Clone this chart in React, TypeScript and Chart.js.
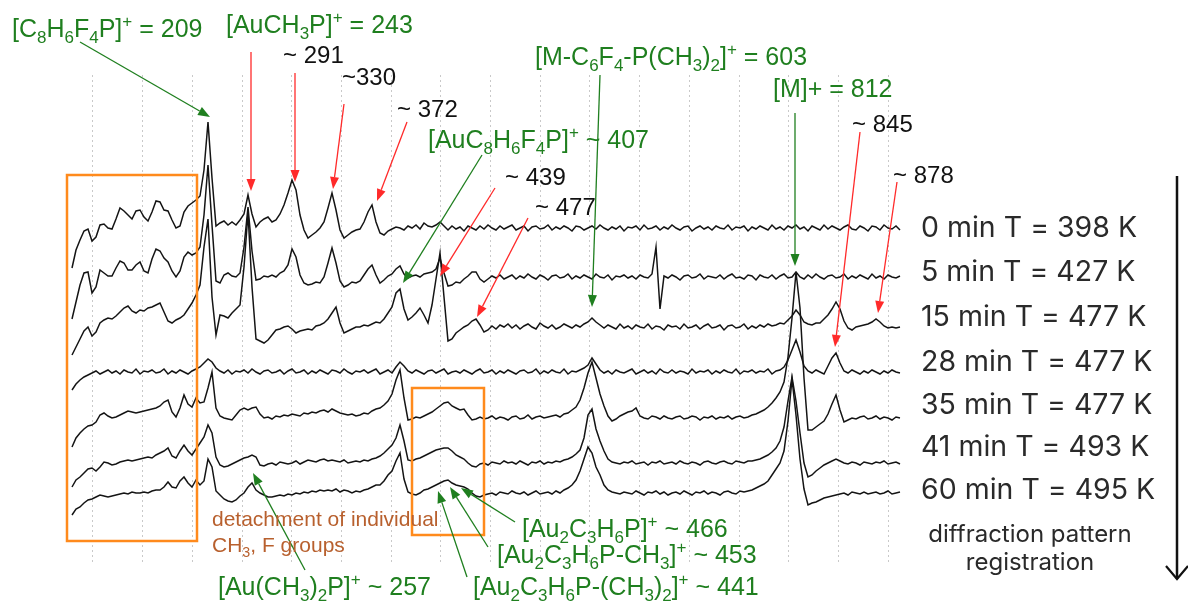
import { useEffect, useRef } from 'react';
import { Chart, registerables } from 'chart.js';

Chart.register(...registerables);

// ---- x grid (mass channel, one sample every 4 units) ----
const channelStart = 72;
const channelStep = 4;

// vertical dotted reference lines
const gridChannels = [92, 142, 192, 242, 291, 341, 391, 440, 490, 540, 589, 639, 689, 739, 788, 838, 888];

// vertical offset of each trace (a.u.)
const traceOffsets = [337, 288, 238, 193, 147, 102, 72];

const traceLabels = [
  '0 min T = 398 K',
  '5 min T = 427 K',
  '15 min T = 477 K',
  '28 min T = 477 K',
  '35 min T = 477 K',
  '41 min T = 493 K',
  '60 min T = 495 K',
];

// ---- intensities relative to each trace's baseline ----
const trace0min = [
  -40, -22, -12, -3, -1, -13, -9, 3, 4, 0,
  -1, 9, 20, 17, 13, 9, 17, 18, 11, 7,
  16, 27, 26, 18, 17, 8, 0, 2, 16, 22,
  25, 28, 32, 58, 106, 50, 2, 5, 7, 3,
  6, 3, 8, 14, 33, 14, 1, 6, 9, 11,
  6, 8, 14, 23, 35, 48, 38, 13, -2, -10,
  -7, -4, 0, 6, 20, 35, 18, -2, -10, -7,
  -4, -2, -1, 6, 16, 23, 6, -5, -7, -3,
  -1, 1, 0, -2, 2, 0, 3, -1, 5, 2,
  1, 3, 6, 2, -2, 2, -1, 1, -3, 2,
  0, -2, 2, -1, 3, 0, -2, 2, -1, 1,
  3, -2, 0, 2, -3, 1, 2, -1, 0, 3,
  -2, 1, -1, 2, 0, -3, 2, 1, -2, 0,
  2, -1, 3, 0, -2, 1, -1, 2, -3, 1,
  0, 2, -2, 3, -1, 0, 2, -2, 1, -1,
  3, 0, -2, 1, 2, -3, 0, 2, -1, 1,
  -2, 2, 0, -1, 3, -2, 1, 0, 2, -3,
  1, -1, 2, 0, -2, 3, -1, 1, -2, 2,
  0, 3, -1, 1, -3, 2, 0, -2, 3, -1,
  2, 0, -2, 1, 3, -1, -2, 2, 0, -3,
  2, 1, -2, 3, 0, -1, 2, -2,
];

const trace5min = [
  -42, -25, -8, 4, 5, -16, -10, 7, 4, 1,
  1, 9, 16, 14, 7, 7, 12, 15, 6, 4,
  18, 28, 26, 19, 15, 6, 0, 6, 20, 25,
  22, 24, 30, 62, 112, 52, -4, -6, 2, 4,
  1, 0, 4, 30, 70, 26, -3, -2, 1, 0,
  2, 0, 4, 6, 12, 28, 20, 2, -6, -8,
  -7, -5, -6, 0, 14, 29, 14, -4, -10, -8,
  -5, -6, -4, 2, 8, 12, 2, -6, -3, 1,
  3, 8, 11, 3, -1, 1, 2, 0, 3, 4,
  5, 8, 19, 4, -9, -8, -5, -6, -2, 1,
  5, 5, -2, -5, -2, 1, -1, 2, -2, 0,
  2, -2, 1, -1, 3, 0, -2, 2, 0, -3,
  1, 2, -1, 0, 3, -2, 1, -1, 2, 0,
  -2, 3, 0, -1, 2, -3, 1, 0, 2, -1,
  1, -2, 2, 0, -1, 3, 30, -32, 1, -1,
  2, 0, -3, 1, 2, -1, 0, 3, -2, 1,
  0, -1, 2, -2, 1, 3, -1, 0, -2, 2,
  1, -3, 2, 0, -1, 2, -2, 1, 3, -1,
  0, 5, 0, -2, 2, -1, 3, 0, -2, 1,
  2, -1, 0, 3, -2, 1, -1, 2, 0, -2,
  3, -1, 1, -2, 2, 0, -1, 1,
];

const trace15min = [
  -28, -20, -12, -4, 0, -9, -5, 4, 7, 9,
  8, 11, 15, 19, 21, 16, 14, 17, 16, 19,
  20, 22, 24, 15, 6, 4, 7, 9, 12, 18,
  24, 32, 42, 80, 108, 30, -8, 12, 11, 9,
  14, 18, 22, 60, 114, 40, -12, -14, -16, -13,
  -8, -3, -2, 0, 1, -2, -6, -4, -3, -2,
  -3, 1, 2, 4, 8, 14, 20, 4, -6, -4,
  -2, 0, 0, 2, 1, 3, 5, 4, 8, 14,
  20, 34, 38, 18, 7, 10, 14, 19, 12, 4,
  22, 48, 74, 30, -14, -12, -6, -3, 0, 2,
  6, 8, 2, -5, -3, 1, -2, 2, 0, 3,
  -1, 2, -2, 1, 3, 0, -2, 4, 1, -1,
  2, -2, 0, 3, 1, -1, 2, 0, 3, 5,
  9, 5, 2, -1, 2, 0, -2, 3, -1, 1,
  -2, 2, 0, -1, 3, -2, 1, 0, -3, 2,
  0, 1, -2, 3, -1, 0, 2, -2, 1, 3,
  -1, 0, 2, -3, 1, 2, -1, 0, 3, -2,
  1, -1, 2, 0, 3, 1, 2, 4, 3, 7,
  11, 17, 12, 5, 3, 2, 4, 4, 8, 12,
  18, 25, 18, 6, -1, -3, 0, 1, 2, 3,
  5, 8, 5, 1, -1, 0, -1, 0,
];

const trace28min = [
  -18, -12, -8, -5, -3, -1, 1, -2, 0, 2,
  -1, 1, -2, 2, 0, -1, 3, -2, 1, 0,
  2, -1, 0, 3, -2, 1, -1, 2, 0, -2,
  1, 3, 5, 9, 13, 10, 4, 1, -1, 2,
  -2, 1, 0, 2, -1, 3, 0, -2, 1, 2,
  -1, 0, 2, -2, 1, 3, -1, 0, 2, -2,
  1, -1, 2, 0, -2, 2, 1, -1, 3, 0,
  -2, 1, 0, 2, -1, 1, 3, -2, 0, 2,
  -1, 5, 10, 6, 1, -1, 2, 0, -2, 1,
  2, -1, 1, 3, -2, 0, 1, -1, 2, 0,
  -2, 1, 3, -1, 0, 2, -2, 1, -1, 2,
  0, -2, 1, 2, -1, 0, 3, -2, 1, -1,
  2, 0, -1, 3, -2, 1, 0, 2, 4, 7,
  14, 8, 2, -1, 1, -2, 2, 0, -1, 1,
  3, -2, 0, 2, -1, 1, -2, 3, 0, -1,
  2, -1, 1, 0, -2, 3, -1, 1, 0, 2,
  -2, 1, -1, 2, 0, -1, 3, -2, 1, 0,
  2, -1, 1, 0, 3, -2, 1, 2, 5, 12,
  22, 32, 20, 6, 1, -1, 2, 0, -2, 6,
  14, 19, 9, 1, -1, 2, 0, -2, 1, -1,
  2, 0, -2, 1, -1, 2, 0, -1,
];

const trace35min = [
  -29, -20, -15, -11, -8, -7, -4, 3, 5, 2,
  0, 1, 3, 5, 7, 6, 5, 6, 7, 8,
  9, 10, 12, 16, 18, 6, 1, 10, 23, 14,
  11, 20, 15, 16, 30, 46, 10, 2, 0, -1,
  -2, 3, 8, 10, 8, 10, 11, 4, 0, 1,
  -1, 2, 1, 3, 2, 4, 3, 2, 5, 4,
  6, 5, 7, 8, 6, 9, 7, 5, 4, 3,
  4, 2, 3, 5, 4, 7, 9, 10, 13, 17,
  24, 38, 48, 20, -2, -1, 1, 0, 2, 4,
  6, 9, 12, 15, 16, 12, 10, 8, 9, 3,
  -2, -1, 1, -1, 0, 2, -1, 1, 0, -2,
  1, 2, -1, 0, 3, -1, 1, 2, 0, 1,
  2, 3, 1, 4, 5, 8, 11, 18, 30, 45,
  56, 40, 24, 12, 2, -3, -1, 2, 4, 6,
  7, 10, 2, 0, -1, 2, 1, -1, 2, 0,
  -1, 1, 2, -1, 0, 2, 1, -2, 1, 0,
  2, -1, 1, 0, 2, -1, 1, 2, 0, 1,
  3, 4, 6, 8, 11, 15, 20, 26, 36, 61,
  100, 146, 110, 40, -12, -12, -9, -6, -3, 4,
  14, 23, 8, -4, -2, 0, -1, 1, 2, -1,
  0, 2, -1, 1, 0, -2, 1, 0,
];

const trace41min = [
  -24, -17, -14, -10, -6, -5, -8, -4, 1, 0,
  -2, -1, 1, 2, 3, 2, 3, 4, 5, 6,
  5, 8, 10, 12, 15, 7, 5, 12, 18, 12,
  8, 14, 20, 26, 38, 30, 6, -2, -4, -3,
  -1, 1, 3, 5, 6, 8, 6, -2, -3, -1,
  0, -2, 1, 0, -1, 0, 2, -1, 1, 3,
  2, 1, 3, 4, 2, 3, 2, 1, 3, 0,
  1, 2, 1, 3, 2, 4, 5, 7, 10, 14,
  18, 25, 38, 22, 3, 2, 4, 5, 7, 9,
  11, 13, 14, 15, 15, 12, 8, 6, 4, 0,
  -3, -4, -1, 0, -2, 1, 0, -1, 2, 0,
  1, -1, 2, 0, -2, 1, 0, 2, -1, 1,
  0, 2, 1, 3, 4, 6, 9, 13, 25, 48,
  54, 34, 22, 12, 4, 1, 0, -1, 1, 0,
  2, -1, 0, 1, -2, 1, 0, 2, -1, 0,
  1, -1, 2, 0, -1, 1, 0, -2, 1, 2,
  0, -1, 1, 2, 0, -1, 2, 1, 0, 2,
  2, 3, 4, 6, 8, 11, 15, 22, 36, 62,
  86, 62, 30, 0, -14, -12, -8, -5, -2, 0,
  2, 4, 2, 0, -1, 1, 0, -2, 1, 0,
  -1, 1, 0, 2, -1, 0, 1, -1,
];

const trace60min = [
  -22, -16, -14, -10, -7, -6, -4, -2, -3, -4,
  -3, -2, -1, 0, -1, 1, 0, 0, 1, 0,
  2, 3, 3, 6, 11, 6, 5, 12, 16, 10,
  6, 13, 8, 12, 34, 26, 2, -2, -6, -8,
  -9, -7, -3, 0, 6, 10, 3, 0, -2, -4,
  -4, -3, -2, -3, -1, -2, 0, -1, 1, 0,
  2, 1, 3, 2, 3, 2, 4, 1, 3, 2,
  0, 2, 1, 3, 4, 6, 8, 8, 12, 18,
  22, 32, 40, 14, 1, -1, -2, 0, 3, 4,
  6, 8, 10, 12, 13, 10, 8, 7, 6, 4,
  0, -3, -4, -2, -1, 0, -2, 1, 0, -1,
  2, 0, -1, 1, -2, 0, 2, -1, 0, 1,
  -1, 2, 0, 3, 5, 8, 13, 22, 34, 46,
  40, 26, 18, 8, 3, 1, 0, -1, 1, 0,
  -1, 2, 0, -2, 1, 0, 2, -1, 1, -2,
  0, 1, -1, 2, 0, -2, 1, 0, 2, -1,
  1, 0, -2, 1, 2, 0, -1, 2, 1, 2,
  3, 5, 7, 9, 12, 18, 24, 30, 42, 72,
  114, 78, 34, 4, -12, -10, -9, -7, -5, -4,
  -3, -2, -1, 0, -2, 1, 0, -1, 1, -1,
  0, 1, -1, 0, 2, -1, 0, 1,
];

const traces = [trace0min, trace5min, trace15min, trace28min, trace35min, trace41min, trace60min];

// ---- annotations ----
const GREEN = '#1f7f1f';
const RED = '#ff2a2a';
const ORANGE = '#ff8a1c';
const BROWN = '#b8602e';

type Note = { text: string; x: number; y: number; color: string; size: number };
const peakNotes: Note[] = [
  { text: '[C_8H_6F_4P]^+ = 209', x: 12, y: 37, color: GREEN, size: 25 },
  { text: '[AuCH_3P]^+ = 243', x: 226, y: 33, color: GREEN, size: 25 },
  { text: '~ 291', x: 283, y: 63, color: '#111', size: 24 },
  { text: '~330', x: 342, y: 85, color: '#111', size: 24 },
  { text: '~ 372', x: 397, y: 117, color: '#111', size: 24 },
  { text: '[AuC_8H_6F_4P]^+ ~ 407', x: 428, y: 148, color: GREEN, size: 25 },
  { text: '~ 439', x: 505, y: 185, color: '#111', size: 24 },
  { text: '~ 477', x: 535, y: 215, color: '#111', size: 24 },
  { text: '[M-C_6F_4-P(CH_3)_2]^+ = 603', x: 535, y: 65, color: GREEN, size: 25 },
  { text: '[M]+ = 812', x: 773, y: 97, color: GREEN, size: 25 },
  { text: '~ 845', x: 852, y: 132, color: '#111', size: 24 },
  { text: '~ 878', x: 893, y: 183, color: '#111', size: 24 },
  { text: 'detachment of individual', x: 212, y: 526, color: BROWN, size: 21 },
  { text: 'CH_3, F groups', x: 212, y: 552, color: BROWN, size: 21 },
  { text: '[Au(CH_3)_2P]^+ ~ 257', x: 218, y: 595, color: GREEN, size: 25 },
  { text: '[Au_2C_3H_6P]^+ ~ 466', x: 522, y: 537, color: GREEN, size: 25 },
  { text: '[Au_2C_3H_6P-CH_3]^+ ~ 453', x: 497, y: 563, color: GREEN, size: 25 },
  { text: '[Au_2C_3H_6P-(CH_3)_2]^+ ~ 441', x: 473, y: 595, color: GREEN, size: 25 },
];

type Arrow = { from: [number, number]; to: [number, number]; color: string };
const arrows: Arrow[] = [
  { from: [80, 42], to: [210, 117], color: GREEN },
  { from: [482, 155], to: [403, 283], color: GREEN },
  { from: [600, 75], to: [592, 307], color: GREEN },
  { from: [795, 113], to: [795, 266], color: GREEN },
  { from: [305, 570], to: [253, 473], color: GREEN },
  { from: [515, 522], to: [461, 488], color: GREEN },
  { from: [488, 547], to: [450, 487], color: GREEN },
  { from: [467, 577], to: [438, 491], color: GREEN },
  { from: [251, 52], to: [251, 191], color: RED },
  { from: [295, 73], to: [295, 182], color: RED },
  { from: [344, 104], to: [333, 189], color: RED },
  { from: [407, 122], to: [377, 201], color: RED },
  { from: [495, 188], to: [440, 276], color: RED },
  { from: [528, 218], to: [477, 317], color: RED },
  { from: [860, 132], to: [835, 347], color: RED },
  { from: [897, 182], to: [878, 313], color: RED },
];

const boxes = [
  { x0: 67, y0: 175, x1: 197, y1: 541 },
  { x0: 412, y0: 388, x1: 484, y1: 535 },
];

const labelCentersY = [228, 272, 317, 362, 405, 447, 490];

const ARIAL = '"Liberation Sans", Arial, sans-serif';
const INTER = 'Inter, "Noto Sans", sans-serif';

function drawRich(ctx: CanvasRenderingContext2D, text: string, x: number, y: number, size: number, color: string) {
  ctx.fillStyle = color;
  ctx.textBaseline = 'alphabetic';
  ctx.textAlign = 'left';
  let cx = x;
  let i = 0;
  while (i < text.length) {
    const ch = text[i];
    if ((ch === '_' || ch === '^') && i + 1 < text.length) {
      const c = text[i + 1];
      const s = size * 0.68;
      ctx.font = `${s}px ${ARIAL}`;
      const dy = ch === '_' ? size * 0.24 : -size * 0.42;
      ctx.fillText(c, cx, y + dy);
      cx += ctx.measureText(c).width;
      i += 2;
    } else {
      let j = i;
      while (j < text.length && text[j] !== '_' && text[j] !== '^') j++;
      const run = text.slice(i, j);
      ctx.font = `${size}px ${ARIAL}`;
      ctx.fillText(run, cx, y);
      cx += ctx.measureText(run).width;
      i = j;
    }
  }
}

function drawArrow(ctx: CanvasRenderingContext2D, a: Arrow) {
  const [x0, y0] = a.from;
  const [x1, y1] = a.to;
  const ang = Math.atan2(y1 - y0, x1 - x0);
  const len = 12;
  const hw = 4.5;
  const bx = x1 - len * Math.cos(ang);
  const by = y1 - len * Math.sin(ang);
  ctx.strokeStyle = a.color;
  ctx.fillStyle = a.color;
  ctx.lineWidth = 1.3;
  ctx.beginPath();
  ctx.moveTo(x0, y0);
  ctx.lineTo(bx, by);
  ctx.stroke();
  ctx.beginPath();
  ctx.moveTo(x1, y1);
  ctx.lineTo(bx + hw * Math.sin(ang), by - hw * Math.cos(ang));
  ctx.lineTo(bx - hw * Math.sin(ang), by + hw * Math.cos(ang));
  ctx.closePath();
  ctx.fill();
}

const annotationPlugin = {
  id: 'spectrumAnnotations',
  afterDatasetsDraw(chart: any) {
    const ctx: CanvasRenderingContext2D = chart.ctx;
    ctx.save();
    ctx.strokeStyle = ORANGE;
    ctx.lineWidth = 2.5;
    boxes.forEach((b) => ctx.strokeRect(b.x0, b.y0, b.x1 - b.x0, b.y1 - b.y0));
    arrows.forEach((a) => drawArrow(ctx, a));
    peakNotes.forEach((n) => drawRich(ctx, n.text, n.x, n.y, n.size, n.color));
    ctx.fillStyle = '#2a2a2a';
    ctx.font = `28.5px ${INTER}`;
    ctx.textAlign = 'left';
    ctx.textBaseline = 'middle';
    traceLabels.forEach((t, k) => ctx.fillText(t, 921, labelCentersY[k]));
    ctx.font = `24px ${INTER}`;
    ctx.textAlign = 'center';
    ctx.fillText('diffraction pattern', 1030, 535);
    ctx.fillText('registration', 1030, 563);
    ctx.strokeStyle = '#111';
    ctx.lineWidth = 2.5;
    ctx.beginPath();
    ctx.moveTo(1177, 176);
    ctx.lineTo(1177, 579);
    ctx.stroke();
    ctx.lineWidth = 2.2;
    ctx.beginPath();
    ctx.moveTo(1166, 566);
    ctx.lineTo(1177, 579);
    ctx.lineTo(1188, 566);
    ctx.stroke();
    ctx.restore();
  },
};

export default function App() {
  const canvasRef = useRef<HTMLCanvasElement | null>(null);

  useEffect(() => {
    const canvas = canvasRef.current;
    if (!canvas) return;
    const datasets = traces.map((vals, k) => ({
      label: traceLabels[k],
      data: vals.map((v, i) => ({ x: channelStart + channelStep * i, y: traceOffsets[k] + v })),
      borderColor: '#141414',
      borderWidth: 1.5,
      pointRadius: 0,
      tension: 0,
      fill: false,
    }));
    const chart = new Chart(canvas, {
      type: 'line',
      data: { datasets },
      options: {
        animation: false,
        responsive: false,
        devicePixelRatio: 1,
        layout: { padding: { left: 62, right: 276, top: 75, bottom: 40 } },
        plugins: { legend: { display: false }, tooltip: { enabled: false } },
        events: [],
        scales: {
          x: {
            type: 'linear',
            min: 62,
            max: 912,
            afterBuildTicks: (scale: any) => {
              scale.ticks = gridChannels.map((v) => ({ value: v }));
            },
            ticks: { display: false },
            grid: { color: '#c9c9c9', lineWidth: 1, drawTicks: false },
            border: { display: false, dash: [2, 3] },
          },
          y: {
            type: 'linear',
            min: 0,
            max: 490,
            display: false,
          },
        },
      },
      plugins: [annotationPlugin],
    });
    return () => chart.destroy();
  }, []);

  return (
    <div style={{ position: 'absolute', left: 0, top: 0, width: 1188, height: 605, background: '#fff' }}>
      <canvas ref={canvasRef} width={1188} height={605} style={{ display: 'block', width: 1188, height: 605 }} />
    </div>
  );
}
